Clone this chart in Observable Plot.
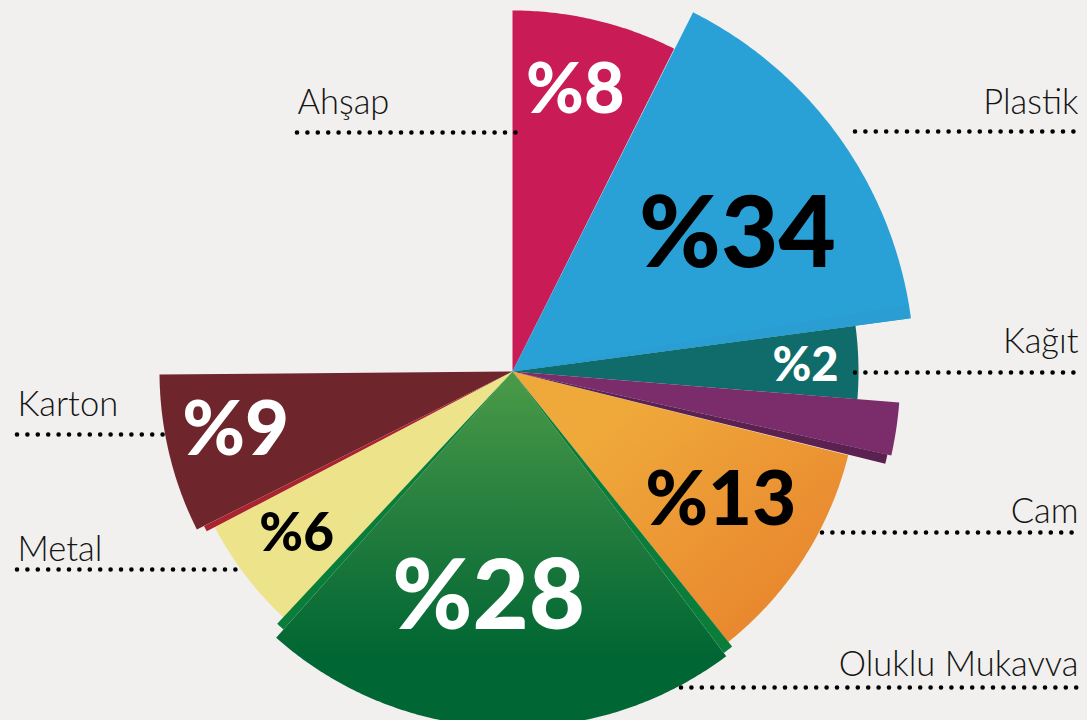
<!DOCTYPE html>
<html>
<head>
<meta charset="utf-8">
<script src="https://cdn.jsdelivr.net/npm/d3@7"></script>
<script src="https://cdn.jsdelivr.net/npm/@observablehq/plot@0.6"></script>
<style>
  html, body { margin: 0; padding: 0; background: #f1f0ee; }
  #chart svg { display: block; }
</style>
</head>
<body>
<div id="chart"></div>
<script>
// ---- Data ----
const categories    = ["Ahşap", "Plastik", "Kağıt", "Diğer", "Cam", "Oluklu Mukavva", "Metal", "Karton"];
const percentLabels = ["%8", "%34", "%2", "", "%13", "%28", "%6", "%9"];
// drawn angular extent of each slice (degrees clockwise from 12 o'clock) and its radius
const startAngles   = [0, 26.7, 82.4, 94.6, 104.0, 143.1, 222.9, 243.4];
const endAngles     = [26.6, 82.4, 94.6, 102.5, 141.4, 221.6, 242.4, 269.5];
const radii         = [361, 402, 346, 388, 346, 356, 336, 353];
const sliceColors   = ["#c91b55", "#29a0d6", "#106c6b", "#7a2c6b", "url(#gradOrange)", "url(#gradGreen)", "#ece38a", "#6e262c"];

// thin "3D" side faces
const sideStart  = [80.4, 102.5, 141.4, 221.6, 242.4];
const sideEnd    = [82.4, 103.9, 143.1, 223.0, 243.4];
const sideRadius = [400, 384, 352, 345, 345];
const sideColors = ["#2a9dd2", "#5b2151", "#0a7d3b", "#0a7d3b", "#a9242f"];

// label styling / placement
const labelAngles  = [12.6, 58.8, 89.0, 0, 121.8, 186.0, 233.1, 258.0];
const labelRadii   = [288, 263, 293, 0, 245, 228, 270, 283];
const labelSizes   = [70, 99, 47, 0, 76, 97, 53, 76];
const labelColors  = ["#ffffff", "#000000", "#ffffff", "#ffffff", "#000000", "#ffffff", "#000000", "#ffffff"];

// legend names with leader lines
const legendNames  = ["Ahşap", "Plastik", "Kağıt", "Cam", "Oluklu Mukavva", "Karton", "Metal"];
const legendX      = [297, 1078, 1078, 1078, 1078, 17, 17];
const legendY      = [113, 113, 352, 522, 675, 415, 560];
const legendAnchor = ["start", "end", "end", "end", "end", "start", "start"];
const leaderY      = [132, 131, 372, 532, 687, 434, 569];
const leaderX1     = [297, 855, 855, 822, 681, 17, 17];
const leaderX2     = [522, 1081, 1081, 1081, 1081, 172, 243];

// ---- Layout ----
const W = 1087, H = 720, CX = 512, CY = 371;
const rad = Math.PI / 180;

function wedge(a0, a1, r) {
  const pts = [{x: CX, y: CY}];
  const n = Math.max(2, Math.ceil((a1 - a0) / 0.5));
  for (let j = 0; j <= n; j++) {
    const a = (a0 + (a1 - a0) * j / n) * rad;
    pts.push({x: CX + r * Math.sin(a), y: CY - r * Math.cos(a)});
  }
  pts.push({x: CX, y: CY});
  return pts;
}

const sliceMarks = categories.map((c, i) =>
  Plot.line(wedge(startAngles[i], endAngles[i], radii[i]), {
    x: "x", y: "y", fill: sliceColors[i], stroke: "none", curve: "linear"
  })
);
const sideMarks = sideStart.map((s, i) =>
  Plot.line(wedge(s, sideEnd[i], sideRadius[i]), {
    x: "x", y: "y", fill: sideColors[i], stroke: "none", curve: "linear"
  })
);

const pctData = categories.map((c, i) => ({
  label: percentLabels[i],
  x: CX + labelRadii[i] * Math.sin(labelAngles[i] * rad),
  y: CY - labelRadii[i] * Math.cos(labelAngles[i] * rad),
  size: labelSizes[i],
  color: labelColors[i]
})).filter(d => d.label);

const pctMarks = pctData.map(d =>
  Plot.text([d], {
    x: "x", y: "y", text: "label", fill: d.color, fontSize: d.size,
    fontWeight: 900, fontFamily: "Lato, 'Open Sans', sans-serif", textAnchor: "middle", lineAnchor: "middle"
  })
);

const legendData = legendNames.map((n, i) => ({
  name: n, x: legendX[i], y: legendY[i], anchor: legendAnchor[i],
  ly: leaderY[i], lx1: leaderX1[i], lx2: leaderX2[i]
}));

const legendMarks = ["start", "end"].map(anc =>
  Plot.text(legendData.filter(d => d.anchor === anc), {
    x: "x", y: "y", text: "name", textAnchor: anc, lineAnchor: "bottom",
    fontSize: 34.5, fontWeight: 300, fontFamily: "Lato, 'Open Sans', sans-serif", fill: "#141414"
  })
);

const chart = Plot.plot({
  width: W, height: H, margin: 0,
  style: {background: "#f1f0ee"},
  x: {domain: [0, W], range: [0, W], axis: null},
  y: {domain: [0, H], range: [0, H], axis: null},
  marks: [
    ...sliceMarks,
    ...sideMarks,
    ...pctMarks,
    Plot.ruleY(legendData, {
      y: "ly", x1: "lx1", x2: "lx2", stroke: "#000000", strokeWidth: 4.6,
      strokeLinecap: "round", strokeDasharray: "0 10.4"
    }),
    ...legendMarks
  ]
});

d3.select(chart).insert("defs", ":first-child").html(`
  <linearGradient id="gradGreen" x1="0" y1="0" x2="0" y2="1">
    <stop offset="0" stop-color="#4b9b48"/>
    <stop offset="0.45" stop-color="#217b3d"/>
    <stop offset="0.8" stop-color="#006633"/>
    <stop offset="1" stop-color="#006633"/>
  </linearGradient>
  <linearGradient id="gradOrange" x1="0" y1="0" x2="1" y2="1">
    <stop offset="0.25" stop-color="#efa83a"/>
    <stop offset="1" stop-color="#e77e2b"/>
  </linearGradient>
`);

document.getElementById("chart").appendChild(chart);
</script>
</body>
</html>
